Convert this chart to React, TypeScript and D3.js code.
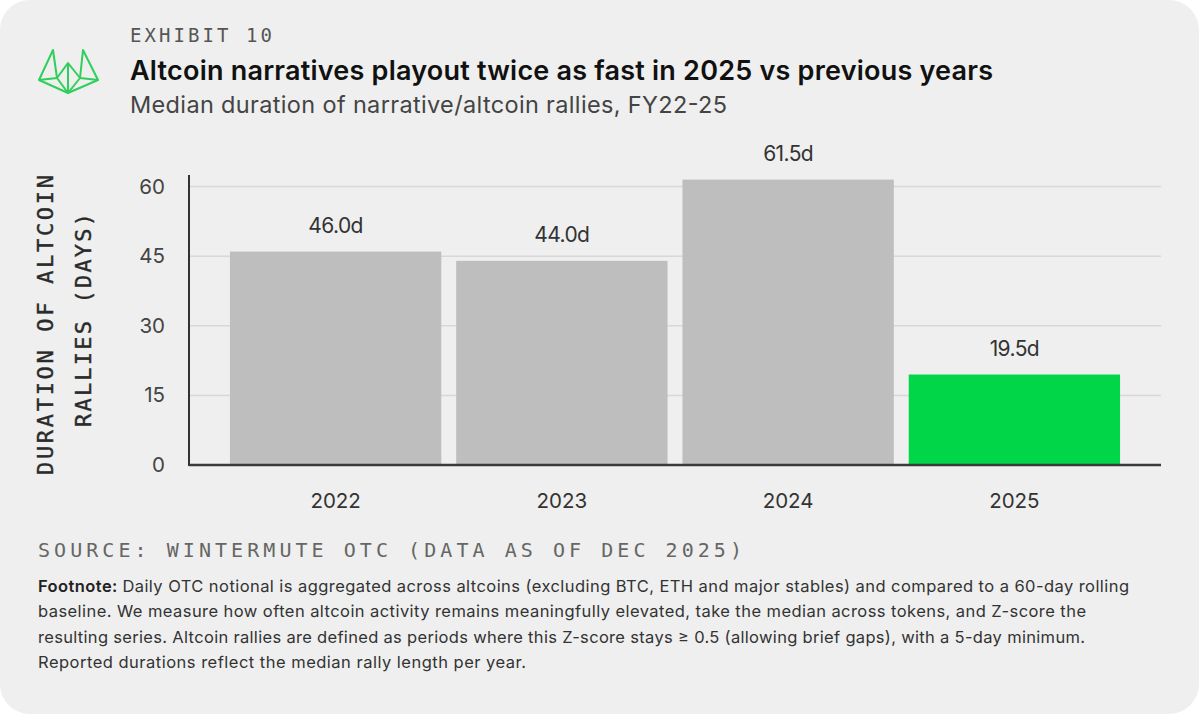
import { useEffect, useRef } from 'react'
import * as d3 from 'd3'

const years = ['2022', '2023', '2024', '2025']
const medianDays = [46.0, 44.0, 61.5, 19.5]
const yTicks = [0, 15, 30, 45, 60]
const highlightYear = '2025'

const exhibitLabel = 'EXHIBIT 10'
const title = 'Altcoin narratives playout twice as fast in 2025 vs previous years'
const subtitle = 'Median duration of narrative/altcoin rallies, FY22-25'
const yTitleLines = ['DURATION OF ALTCOIN', 'RALLIES (DAYS)']
const sourceText = 'SOURCE: WINTERMUTE OTC (DATA AS OF DEC 2025)'
const footnoteLines = [
  'Daily OTC notional is aggregated across altcoins (excluding BTC, ETH and major stables) and compared to a 60-day rolling',
  'baseline. We measure how often altcoin activity remains meaningfully elevated, take the median across tokens, and Z-score the',
  'resulting series. Altcoin rallies are defined as periods where this Z-score stays ≥ 0.5 (allowing brief gaps), with a 5-day minimum.',
  'Reported durations reflect the median rally length per year.',
]

const W = 1199
const H = 714
const SANS = 'Inter, "Noto Sans", sans-serif'
const MONO = '"DejaVu Sans Mono", monospace'

export default function App() {
  const svgRef = useRef<SVGSVGElement>(null)

  useEffect(() => {
    if (!svgRef.current) return
    const svg = d3.select(svgRef.current)
    svg.selectAll('*').remove()

    // card
    svg.append('rect').attr('width', W).attr('height', H).attr('fill', '#ffffff')
    svg.append('rect')
      .attr('x', 0).attr('y', 0).attr('width', W).attr('height', H)
      .attr('rx', 30).attr('fill', '#eeefee')

    // logo
    const logo = svg.append('g')
      .attr('fill', 'none').attr('stroke', '#2fcf5c')
      .attr('stroke-width', 2).attr('stroke-linejoin', 'round')
    const lp = (pts: [number, number][]) => logo.append('path').attr('d', d3.line()(pts) + 'Z')
    lp([[53, 50], [39, 80], [57, 78]])
    lp([[83, 50], [98, 80], [80, 78]])
    lp([[68, 63], [57, 78], [68, 93], [80, 78]])
    logo.append('path').attr('d', d3.line()([[39, 80], [68, 93], [98, 80]]))
    logo.append('path').attr('d', d3.line()([[68, 63], [68, 93]]))

    // header
    svg.append('text')
      .attr('x', 130).attr('y', 42)
      .attr('font-family', MONO).attr('font-size', 19).attr('fill', '#555')
      .attr('textLength', 142).attr('lengthAdjust', 'spacing')
      .text(exhibitLabel)
    svg.append('text')
      .attr('x', 130).attr('y', 80)
      .attr('font-family', SANS).attr('font-size', 27).attr('font-weight', 600).attr('fill', '#111')
      .attr('textLength', 863).attr('lengthAdjust', 'spacing')
      .text(title)
    svg.append('text')
      .attr('x', 130).attr('y', 113)
      .attr('font-family', SANS).attr('font-size', 23.5).attr('fill', '#444')
      .attr('textLength', 597).attr('lengthAdjust', 'spacing')
      .text(subtitle)

    // chart
    const left = 189
    const right = 1161
    const base = 465
    const top = 175

    const x = d3.scaleBand<string>()
      .domain(years)
      .range([left, right])
      .paddingInner(0.066)
      .paddingOuter(0.181)

    const y = d3.scaleLinear()
      .domain([0, 62.5])
      .range([base, top])

    const g = svg.append('g')

    yTicks.filter(t => t > 0).forEach(t => {
      g.append('line')
        .attr('x1', left).attr('x2', right)
        .attr('y1', y(t)).attr('y2', y(t))
        .attr('stroke', '#d7d8d7').attr('stroke-width', 1.5)
    })

    years.forEach((yr, i) => {
      const v = medianDays[i]
      g.append('rect')
        .attr('x', x(yr)!).attr('y', y(v))
        .attr('width', x.bandwidth()).attr('height', base - y(v))
        .attr('fill', yr === highlightYear ? '#00d647' : '#bdbebd')

      g.append('text')
        .attr('x', x(yr)! + x.bandwidth() / 2).attr('y', y(v) - 19)
        .attr('text-anchor', 'middle')
        .attr('font-family', SANS).attr('font-size', 21).attr('fill', '#333')
        .attr('letter-spacing', -0.6)
        .text(`${v.toFixed(1)}d`)

      g.append('text')
        .attr('x', x(yr)! + x.bandwidth() / 2).attr('y', 508)
        .attr('text-anchor', 'middle')
        .attr('font-family', SANS).attr('font-size', 20.5).attr('fill', '#333')
        .text(yr)
    })

    yTicks.forEach(t => {
      g.append('text')
        .attr('x', 165).attr('y', y(t) + 7)
        .attr('text-anchor', 'end')
        .attr('font-family', SANS).attr('font-size', 20.5).attr('fill', '#444')
        .text(t)
    })

    g.append('line')
      .attr('x1', left).attr('x2', left)
      .attr('y1', top).attr('y2', base + 1)
      .attr('stroke', '#333').attr('stroke-width', 2)
    g.append('line')
      .attr('x1', left).attr('x2', right)
      .attr('y1', base).attr('y2', base)
      .attr('stroke', '#3a3a3a').attr('stroke-width', 2.5)

    // y axis title
    const yTitle = [
      { x: 53, cy: 325, len: 300 },
      { x: 91, cy: 320, len: 214 },
    ]
    yTitleLines.forEach((line, i) => {
      svg.append('text')
        .attr('transform', `translate(${yTitle[i].x},${yTitle[i].cy}) rotate(-90)`)
        .attr('text-anchor', 'middle')
        .attr('font-family', MONO).attr('font-size', 22).attr('fill', '#2a2a2a')
        .attr('stroke', '#2a2a2a').attr('stroke-width', 0.4)
        .attr('textLength', yTitle[i].len).attr('lengthAdjust', 'spacing')
        .text(line)
    })

    // source + footnote
    svg.append('text')
      .attr('x', 38).attr('y', 557)
      .attr('font-family', MONO).attr('font-size', 20).attr('fill', '#666')
      .attr('textLength', 704).attr('lengthAdjust', 'spacing')
      .text(sourceText)

    const fnEnds = [1129, 1086, 1085, 526]
    footnoteLines.forEach((line, i) => {
      const t = svg.append('text')
        .attr('x', 38).attr('y', 592 + i * 25.3)
        .attr('font-family', SANS).attr('font-size', 16.5).attr('fill', '#333')
        .attr('textLength', fnEnds[i] - 38).attr('lengthAdjust', 'spacing')
      if (i === 0) {
        t.append('tspan').attr('font-weight', 600).attr('fill', '#222').text('Footnote: ')
      }
      t.append('tspan').text(line)
    })
  }, [])

  return (
    <div style={{ position: 'absolute', left: 0, top: 0, width: W, height: H }}>
      <svg ref={svgRef} width={W} height={H} style={{ display: 'block' }} />
    </div>
  )
}
